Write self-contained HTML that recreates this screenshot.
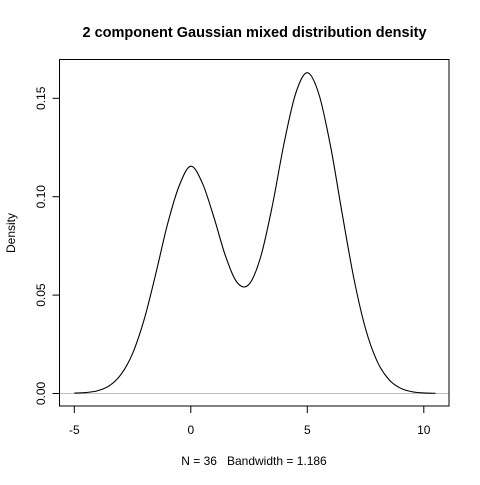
<!DOCTYPE html>
<html><head><meta charset="utf-8"><style>
body{margin:0;background:#fff}
text{font-family:"Liberation Sans",Arial,sans-serif;fill:#000}
</style></head><body>
<svg id="chart" width="480" height="480" xmlns="http://www.w3.org/2000/svg">
<rect width="480" height="480" fill="#fff"/>
<text x="254.5" y="37" text-anchor="middle" font-size="14.5" font-weight="bold">2 component Gaussian mixed distribution density</text>
<text x="254" y="465" text-anchor="middle" font-size="12" xml:space="preserve" style="white-space:pre">N = 36   Bandwidth = 1.186</text>
<text transform="translate(15,233) rotate(-90)" text-anchor="middle" font-size="12">Density</text>
<g id="axes"></g>
</svg>
<script>
const xs=[-5,-4.5,-4,-3.5,-3,-2.5,-2,-1.5,-1,-0.5,0,0.5,1,1.5,2,2.5,3,3.5,4,4.5,5,5.5,6,6.5,7,7.5,8,8.5,9,9.5,10,10.5];
const ys=[0.0002,0.0005,0.0014,0.0039,0.0096,0.0203,0.0377,0.061,0.086,0.1055,0.1155,0.1068,0.0892,0.0695,0.0562,0.0555,0.0695,0.0955,0.127,0.1524,0.163,0.152,0.1255,0.0912,0.0584,0.0329,0.0163,0.0071,0.0027,0.0009,0.0003,0.0001];
const xTicks=[-5,0,5,10];
const yTicks=[0,0.05,0.10,0.15];
const yTickLabels=["0.00","0.05","0.10","0.15"];
const X=v=>190.8+23.3*v, Y=v=>393.5-1968*v;
const NS="http://www.w3.org/2000/svg";
const svg=document.getElementById('chart'), g=document.getElementById('axes');
function mk(t,a,p){const e=document.createElementNS(NS,t);for(const k in a)e.setAttribute(k,a[k]);(p||g).appendChild(e);return e;}
const base=mk('line',{x1:59.5,x2:449,y1:Y(0),y2:Y(0),stroke:'#bebebe','stroke-width':1});


const box=mk('rect',{x:59.5,y:59.5,width:389.5,height:346.5,fill:'none',stroke:'#000','stroke-width':1});


xTicks.forEach(v=>{
 const l=mk('line',{x1:X(v),x2:X(v),y1:406,y2:413,stroke:'#000'});
 
 
 const t=mk('text',{x:X(v),y:434,'text-anchor':'middle','font-size':12});t.textContent=v;
 
 
});
yTicks.forEach((v,i)=>{
 const l=mk('line',{x1:52.5,x2:59.5,y1:Y(v),y2:Y(v),stroke:'#000'});
 
 
 const t=mk('text',{transform:`translate(45,${Y(v)}) rotate(-90)`,'text-anchor':'middle','font-size':12});t.textContent=yTickLabels[i];
 
 
});
const P=xs.map((x,i)=>[X(x),Y(ys[i])]);
let d=`M${P[0][0]},${P[0][1]}`;
for(let i=0;i<P.length-1;i++){
 const p0=P[Math.max(0,i-1)],p1=P[i],p2=P[i+1],p3=P[Math.min(P.length-1,i+2)];
 d+=` C${p1[0]+(p2[0]-p0[0])/6},${p1[1]+(p2[1]-p0[1])/6} ${p2[0]-(p3[0]-p1[0])/6},${p2[1]-(p3[1]-p1[1])/6} ${p2[0]},${p2[1]}`;
}
const path=mk('path',{d:d,fill:'none',stroke:'#000','stroke-width':1.1});


</script>
</body></html>
